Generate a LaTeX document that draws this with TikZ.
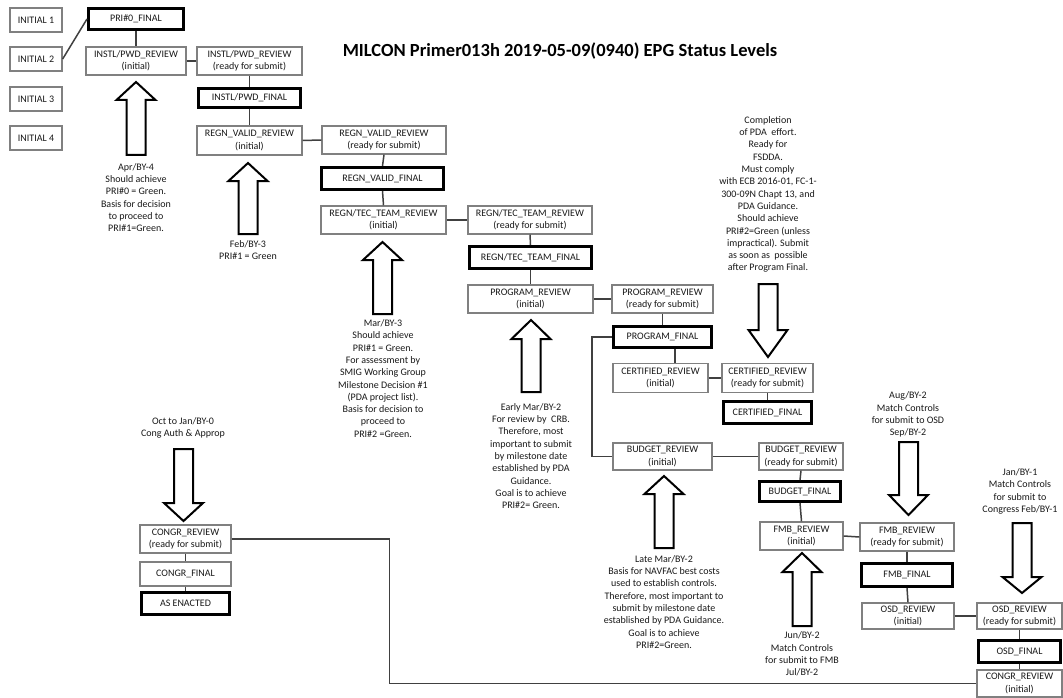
\documentclass[tikz,border=0pt]{standalone}
\usepackage{fontspec}
\setmainfont{Carlito}
\tikzset{
  lbl/.style={font=\fontsize{10}{12.3}\selectfont, text=black!90},
  rbox/.style={lbl, draw=black!50, line width=1.3pt, fill=white, align=center, inner sep=0pt},
  fbox/.style={rbox, draw=black, line width=3pt},
  link/.style={draw=black!75, line width=1.5pt},
  note/.style={lbl, align=center, inner sep=0pt},
  hollow/.style={draw=black, line width=2pt, fill=white, line join=miter},
}
% hollow block arrow: centre x, tail y, head-base y, tip y
\newcommand\hollowarrow[4]{%
  \draw[hollow] ({#1-9.5},#2) -- ({#1-9.5},#3) -- ({#1-19.5},#3) -- (#1,#4)
    -- ({#1+19.5},#3) -- ({#1+9.5},#3) -- ({#1+9.5},#2) -- cycle;}
\begin{document}
\begin{tikzpicture}[x=1pt, y=-1pt]
\useasboundingbox (0,0) rectangle (1063,698);
\fill[white] (0,0) rectangle (1063,698);

% title
\node[font=\fontsize{18.5}{22}\selectfont\bfseries, inner sep=0pt] (title) at (560,51)
  {MILCON Primer013h 2019-05-09(0940) EPG Status Levels};

% initial levels
\node[rbox, minimum width=52, minimum height=24] (i1) at (36,20) {INITIAL 1};
\node[rbox, minimum width=52, minimum height=24] (i2) at (36,59) {INITIAL 2};
\node[rbox, minimum width=52, minimum height=24] (i3) at (36,99) {INITIAL 3};
\node[rbox, minimum width=52, minimum height=24] (i4) at (36,138) {INITIAL 4};

% INSTL/PWD stage
\node[fbox, minimum width=95, minimum height=21] (p0f) at (136,19) {PRI\#0\_FINAL};
\node[rbox, minimum width=100, minimum height=28] (ipi) at (136,61) {INSTL/PWD\_REVIEW\\(initial)};
\node[rbox, minimum width=105, minimum height=28] (ipr) at (249.5,61) {INSTL/PWD\_REVIEW\\(ready for submit)};
\node[fbox, minimum width=102, minimum height=19] (ipf) at (249.5,98) {INSTL/PWD\_FINAL};

% REGN_VALID stage
\node[rbox, minimum width=105, minimum height=29] (rvi) at (249.5,140.5) {REGN\_VALID\_REVIEW\\(initial)};
\node[rbox, minimum width=124, minimum height=28] (rvr) at (384,140) {REGN\_VALID\_REVIEW\\(ready for submit)};
\node[fbox, minimum width=122, minimum height=22] (rvf) at (382.5,178.5) {REGN\_VALID\_FINAL};

% REGN/TEC_TEAM stage
\node[rbox, minimum width=125, minimum height=28] (rti) at (383.5,220) {REGN/TEC\_TEAM\_REVIEW\\(initial)};
\node[rbox, minimum width=124, minimum height=28] (rtr) at (530,220) {REGN/TEC\_TEAM\_REVIEW\\(ready for submit)};
\node[fbox, minimum width=122, minimum height=22] (rtf) at (530.5,257.5) {REGN/TEC\_TEAM\_FINAL};

% PROGRAM stage
\node[rbox, minimum width=125, minimum height=28] (pri) at (530.5,299) {PROGRAM\_REVIEW\\(initial)};
\node[rbox, minimum width=101, minimum height=28] (prr) at (662.5,299) {PROGRAM\_REVIEW\\(ready for submit)};
\node[fbox, minimum width=98, minimum height=21] (pf) at (662.5,337) {PROGRAM\_FINAL};

% CERTIFIED stage
\node[rbox, minimum width=95, minimum height=29] (ci) at (660.5,378) {CERTIFIED\_REVIEW\\(initial)};
\node[rbox, minimum width=91, minimum height=29] (cr) at (767.5,378) {CERTIFIED\_REVIEW\\(ready for submit)};
\node[fbox, minimum width=88, minimum height=22] (cf) at (767.5,412.5) {CERTIFIED\_FINAL};

% BUDGET stage
\node[rbox, minimum width=99, minimum height=27] (bi) at (662.5,456.5) {BUDGET\_REVIEW\\(initial)};
\node[rbox, minimum width=84, minimum height=27] (br) at (801,456.5) {BUDGET\_REVIEW\\(ready for submit)};
\node[fbox, minimum width=81, minimum height=20] (bf) at (800,491.5) {BUDGET\_FINAL};

% FMB stage
\node[rbox, minimum width=83, minimum height=28] (fi) at (801.5,536) {FMB\_REVIEW\\(initial)};
\node[rbox, minimum width=94, minimum height=28] (fr) at (907,537) {FMB\_REVIEW\\(ready for submit)};
\node[fbox, minimum width=91, minimum height=23] (ff) at (907,575) {FMB\_FINAL};

% OSD stage
\node[rbox, minimum width=92, minimum height=26] (oi) at (908,616) {OSD\_REVIEW\\(initial)};
\node[rbox, minimum width=85, minimum height=26] (orr) at (1019.5,616) {OSD\_REVIEW\\(ready for submit)};
\node[fbox, minimum width=82, minimum height=22] (of) at (1019.5,651.5) {OSD\_FINAL};
\node[rbox, minimum width=85, minimum height=27] (cgi) at (1019.5,683.5) {CONGR\_REVIEW\\(initial)};

% CONGR stage
\node[rbox, minimum width=91, minimum height=28] (cgr) at (185.5,539) {CONGR\_REVIEW\\(ready for submit)};
\node[rbox, minimum width=91, minimum height=24] (cgf) at (185.5,574) {CONGR\_FINAL};
\node[fbox, minimum width=88, minimum height=22] (ae) at (185.5,603.5) {AS ENACTED};

% connectors
\draw[link] (i2.east) -- (p0f.west);
\draw[link] (p0f.south) -- (ipi.north);
\draw[link] (ipi.east) -- (ipr.west);
\draw[link] (ipr.south) -- (ipf.north);
\draw[link] (ipf.south) -- (rvi.north);
\draw[link] (rvi.east) -- (rvr.west);
\draw[link] (rvr.south) -- (rvf.north);
\draw[link] (rvf.south) -- (rti.north);
\draw[link] (rti.east) -- (rtr.west);
\draw[link] (rtr.south) -- (rtf.north);
\draw[link] (rtf.south) -- (pri.north);
\draw[link] (pri.east) -- (prr.west);
\draw[link] (prr.south) -- (pf.north);
\draw[link] ([xshift=12.5pt]pf.south) -- ([xshift=12.5pt]pf.south |- ci.north);
\draw[link] (pf.west) -- ++(-20,0) |- (bi.west);
\draw[link] (ci.east) -- (cr.west);
\draw[link] (cr.south) -- (cf.north);
\draw[link] (bi.east) -- (br.west);
\draw[link] (br.south) -- (bf.north);
\draw[link] (bf.south) -- (fi.north);
\draw[link] (fi.east) -- (fr.west);
\draw[link] (fr.south) -- (ff.north);
\draw[link] (ff.south) -- (oi.north);
\draw[link] (oi.east) -- (orr.west);
\draw[link] (orr.south) -- (of.north);
\draw[link] (of.south) -- (cgi.north);
\draw[link] (cgr.east) -- ++(158,0) |- (cgi.west);
\draw[link] (cgr.south) -- (cgf.north);
\draw[link] (cgf.south) -- (ae.north);

% milestone arrows
\hollowarrow{136}{155}{100}{82}
\hollowarrow{248}{234}{181}{163}
\hollowarrow{382.5}{314}{260}{242}
\hollowarrow{531}{392}{339}{320}
\hollowarrow{768}{284}{330}{357}
\hollowarrow{664}{548}{494}{476}
\hollowarrow{802}{626}{572}{553}
\hollowarrow{908.5}{442}{495}{515}
\hollowarrow{1022}{523}{577}{593}
\hollowarrow{183.5}{449}{503}{521}

% milestone notes
\node[note] (nApr) at (136,197.5) {Apr/BY-4\\Should achieve\\PRI\#0 = Green.\\Basis for decision\\to proceed to\\PRI\#1=Green.};
\node[note] (nFeb) at (248,250) {Feb/BY-3\\PRI\#1 = Green};
\node[note] (nMar) at (383,378.5) {Mar/BY-3\\Should achieve\\PRI\#1 = Green.\\For assessment by\\SMIG Working Group\\Milestone Decision \#1\\(PDA project list).\\Basis for decision to\\proceed to\\PRI\#2 =Green.};
\node[note] (nEarly) at (531,456) {Early Mar/BY-2\\For review by\ \ CRB.\\Therefore, most\\important to submit\\by milestone date\\established by PDA\\Guidance.\\Goal is to achieve\\PRI\#2= Green.};
\node[note] (nCert) at (768,194.5) {Completion\\of PDA\ \ effort.\\Ready for\\FSDDA.\\Must comply\\with ECB 2016-01, FC-1-\\300-09N Chapt 13, and\\PDA Guidance.\\Should achieve\\PRI\#2=Green (unless\\impractical). Submit\\as soon as\ \ possible\\after Program Final.};
\node[note] (nLate) at (664,602) {Late Mar/BY-2\\Basis for NAVFAC best costs\\used to establish controls.\\Therefore, most important to\\submit by milestone date\\established by PDA Guidance.\\Goal is to achieve\\PRI\#2=Green.};
\node[note] (nJun) at (802,654) {Jun/BY-2\\Match Controls\\for submit to FMB\\Jul/BY-2};
\node[note] (nAug) at (908,414.5) {Aug/BY-2\\Match Controls\\for submit to OSD\\Sep/BY-2};
\node[note] (nJan) at (1020,491.5) {Jan/BY-1\\Match Controls\\for submit to\\Congress Feb/BY-1};
\node[note] (nOct) at (183,428) {Oct to Jan/BY-0\\Cong Auth \& Approp};
\end{tikzpicture}
\end{document}
